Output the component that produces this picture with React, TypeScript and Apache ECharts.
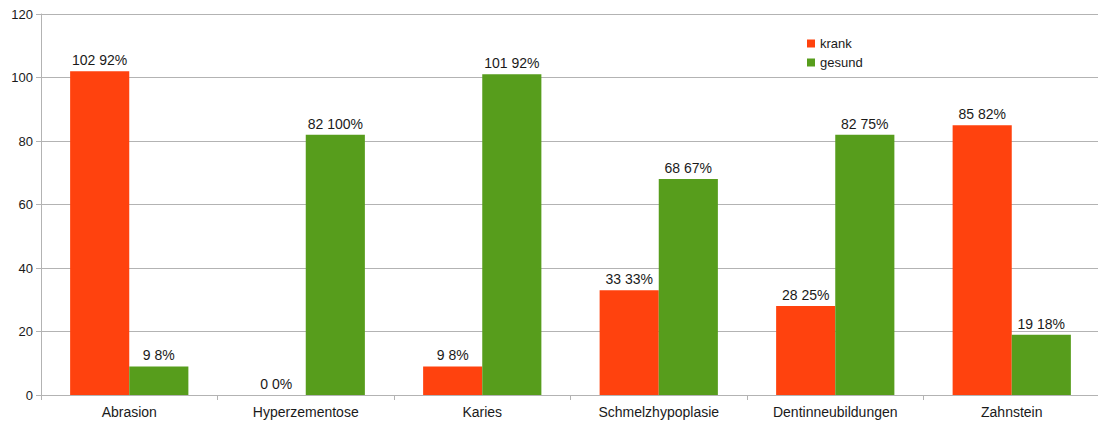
import React, { useEffect, useRef } from "react";
import * as echarts from "echarts";

const categories = ["Abrasion", "Hyperzementose", "Karies", "Schmelzhypoplasie", "Dentinneubildungen", "Zahnstein"];
const krank = [102, 0, 9, 33, 28, 85];
const gesund = [9, 82, 101, 68, 82, 19];
const krankPct = [92, 0, 8, 33, 25, 82];
const gesundPct = [8, 100, 92, 67, 75, 18];
const yTicks = { min: 0, max: 120, interval: 20 };

const FONT = "Liberation Sans, Arial, sans-serif";

export default function App() {
  const ref = useRef<HTMLDivElement>(null);
  useEffect(() => {
    if (!ref.current) return;
    const chart = echarts.init(ref.current, undefined, { renderer: "svg" });
    const label = (pct: number[]) => ({
      show: true,
      position: "top" as const,
      distance: 4,
      fontFamily: FONT,
      fontSize: 14,
      color: "#1a1a1a",
      formatter: (p: any) => `${p.value} ${pct[p.dataIndex]}%`,
    });
    chart.setOption({
      animation: false,
      backgroundColor: "#fff",
      textStyle: { fontFamily: FONT },
      grid: { left: 41, right: 0, top: 14, bottom: 28, containLabel: false },
      legend: {
        orient: "vertical",
        left: 802,
        top: 32,
        icon: "rect",
        itemWidth: 8,
        itemHeight: 8,
        itemGap: 6,
        textStyle: { fontFamily: FONT, fontSize: 13, color: "#1a1a1a" },
        data: ["krank", "gesund"],
      },
      xAxis: {
        type: "category",
        data: categories,
        axisLine: { lineStyle: { color: "#b3b3b3" } },
        axisTick: { show: true, length: 5, lineStyle: { color: "#b3b3b3" } },
        axisLabel: { fontFamily: FONT, fontSize: 14, color: "#1a1a1a", margin: 10 },
      },
      yAxis: {
        type: "value",
        min: yTicks.min,
        max: yTicks.max,
        interval: yTicks.interval,
        axisLine: { show: true, lineStyle: { color: "#b3b3b3" } },
        axisTick: { show: true, length: 5, lineStyle: { color: "#b3b3b3" } },
        splitLine: { lineStyle: { color: "#b3b3b3" } },
        axisLabel: { fontFamily: FONT, fontSize: 13, color: "#1a1a1a", margin: 8 },
      },
      series: [
        {
          name: "krank",
          type: "bar",
          data: krank,
          itemStyle: { color: "#ff420e" },
          barGap: "0%",
          barCategoryGap: "33%",
          label: label(krankPct),
        },
        {
          name: "gesund",
          type: "bar",
          data: gesund,
          itemStyle: { color: "#579d1c" },
          barGap: "0%",
          barCategoryGap: "33%",
          label: label(gesundPct),
        },
      ],
    });
    return () => chart.dispose();
  }, []);
  return (
    <div style={{ width: 1098, height: 423, position: "absolute", left: 0, top: 0, overflow: "hidden" }}>
      <div ref={ref} style={{ width: 1100, height: 423 }} />
    </div>
  );
}
